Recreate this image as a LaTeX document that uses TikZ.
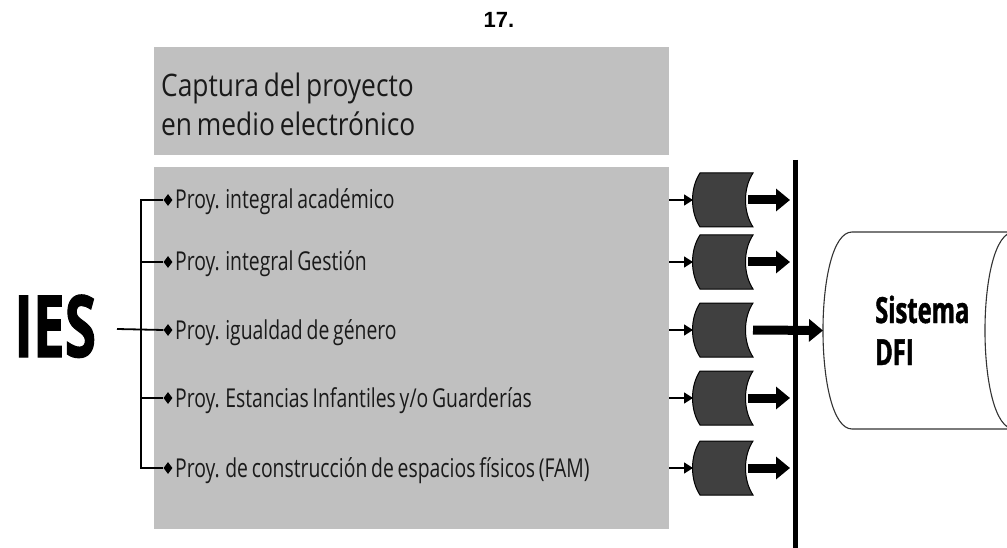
\documentclass[tikz,border=0pt]{standalone}
\usepackage{fontspec}
\setmainfont{Liberation Sans}
\newfontfamily\capfont[FakeStretch=0.85,WordSpace=0.7]{Open Sans}
\newfontfamily\itemfont[FakeStretch=0.745,WordSpace=0.75]{Open Sans}
\newfontfamily\condbold[FakeStretch=0.66,FakeBold=1.2]{Open Sans}
\usetikzlibrary{arrows.meta,shapes.geometric}
\definecolor{boxgrey}{HTML}{C0C0C0}
\definecolor{cyldark}{HTML}{404040}
\definecolor{txt}{HTML}{1A1A1A}
\definecolor{cylline}{HTML}{333333}
\begin{document}
\begin{tikzpicture}[x=1pt,y=-1pt,
  greybox/.style={fill=boxgrey, draw=none},
  itemtext/.style={anchor=base west, inner sep=0pt, text=txt, font=\itemfont\fontsize{26}{30}\selectfont},
  bullet/.style={diamond, fill=black, inner sep=0pt, minimum width=9pt, minimum height=12pt},
  store/.style={minimum width=60pt, minimum height=55pt, inner sep=0pt},
  storeshape/.style={fill=cyldark, draw=black, line width=1pt},
  thinarrow/.style={line width=1.6pt, -{Triangle[length=9pt,width=11pt]}},
  thickarrow/.style={line width=9pt, -{Triangle[length=14pt,width=22pt]}},
  bracket/.style={line width=1.8pt},
  cylstyle/.style={cylline, line width=1.1pt},
]
\useasboundingbox (0,0) rectangle (1007,548);

% title
\node[font=\bfseries\fontsize{22}{26}\selectfont, anchor=base] (title) at (499,28) {17.};

% grey boxes
\fill[greybox] (154,47) rectangle (669,155);
\fill[greybox] (154,167) rectangle (669,529);

\node[anchor=base west, inner sep=0pt, align=left, text=txt,
      font=\capfont\fontsize{31}{39}\selectfont] (cap) at (161,136)
  {Captura del proyecto\\en medio electrónico};

% IES
\node[anchor=base west, inner sep=0pt, font=\condbold\bfseries\fontsize{86}{86}\selectfont] (ies) at (14,357) {IES};

% vertical bar
\coordinate (bartop) at (795,160);
\coordinate (barbot) at (795,548);
\draw[line width=5pt] (bartop) -- (barbot);

% big cylinder
\begin{scope}
\clip (0,0) rectangle (1007,548);
\draw[cylstyle] (852,232) .. controls (813.3,232) and (813.3,429) .. (852,429)
  -- (1014,429) .. controls (1052.7,429) and (1052.7,232) .. (1014,232) -- cycle;
\draw[cylstyle] (1014,232) .. controls (975.3,232) and (975.3,429) .. (1014,429);
\end{scope}
\coordinate (sysw) at (823,330.5);
\node[anchor=base west, inner sep=0pt, align=left,
      font=\condbold\bfseries\fontsize{36}{42}\selectfont] (sys) at (875,365) {Sistema\\DFI};

% rows
\foreach \i/\r/\t in {1/200/{Proy. integral académico},
                      2/262/{Proy. integral Gestión},
                      3/330/{Proy. igualdad de género},
                      4/398/{Proy. Estancias Infantiles y/o Guarderías},
                      5/468/{Proy. de construcción de espacios físicos (FAM)}}{
  \node[bullet] (b\i) at (168,\r) {};
  \node[itemtext] (t\i) at (175,\r+9) {\t};
  \node[store] (c\i) at (723,\r) {};
  \path[storeshape] (700,\r-27) -- (753,\r-27)
     .. controls (743,\r-12) and (743,\r+12) .. (753,\r+27)
     -- (700,\r+27)
     .. controls (690,\r+12) and (690,\r-12) .. (700,\r-27) -- cycle;
  \coordinate (e\i) at (669,\r);
  \draw[thinarrow] (e\i) -- (693,\r);
}
\foreach \i/\r in {1/200,2/262,4/398,5/468}{
  \coordinate (a\i) at (790,\r);
  \draw[thickarrow] (748,\r) -- (a\i);
}
\draw[thickarrow] (753,330) -- (sysw);

% bracket
\coordinate (iesline) at (117,329);
\draw[bracket] (b1.west) -- (141,200) -- (141,468) -- (b5.west);
\draw[bracket] (141,262) -- (b2.west);
\draw[bracket] (141,398) -- (b4.west);
\draw[bracket] (iesline) -- (b3.west);
\end{tikzpicture}
\end{document}
